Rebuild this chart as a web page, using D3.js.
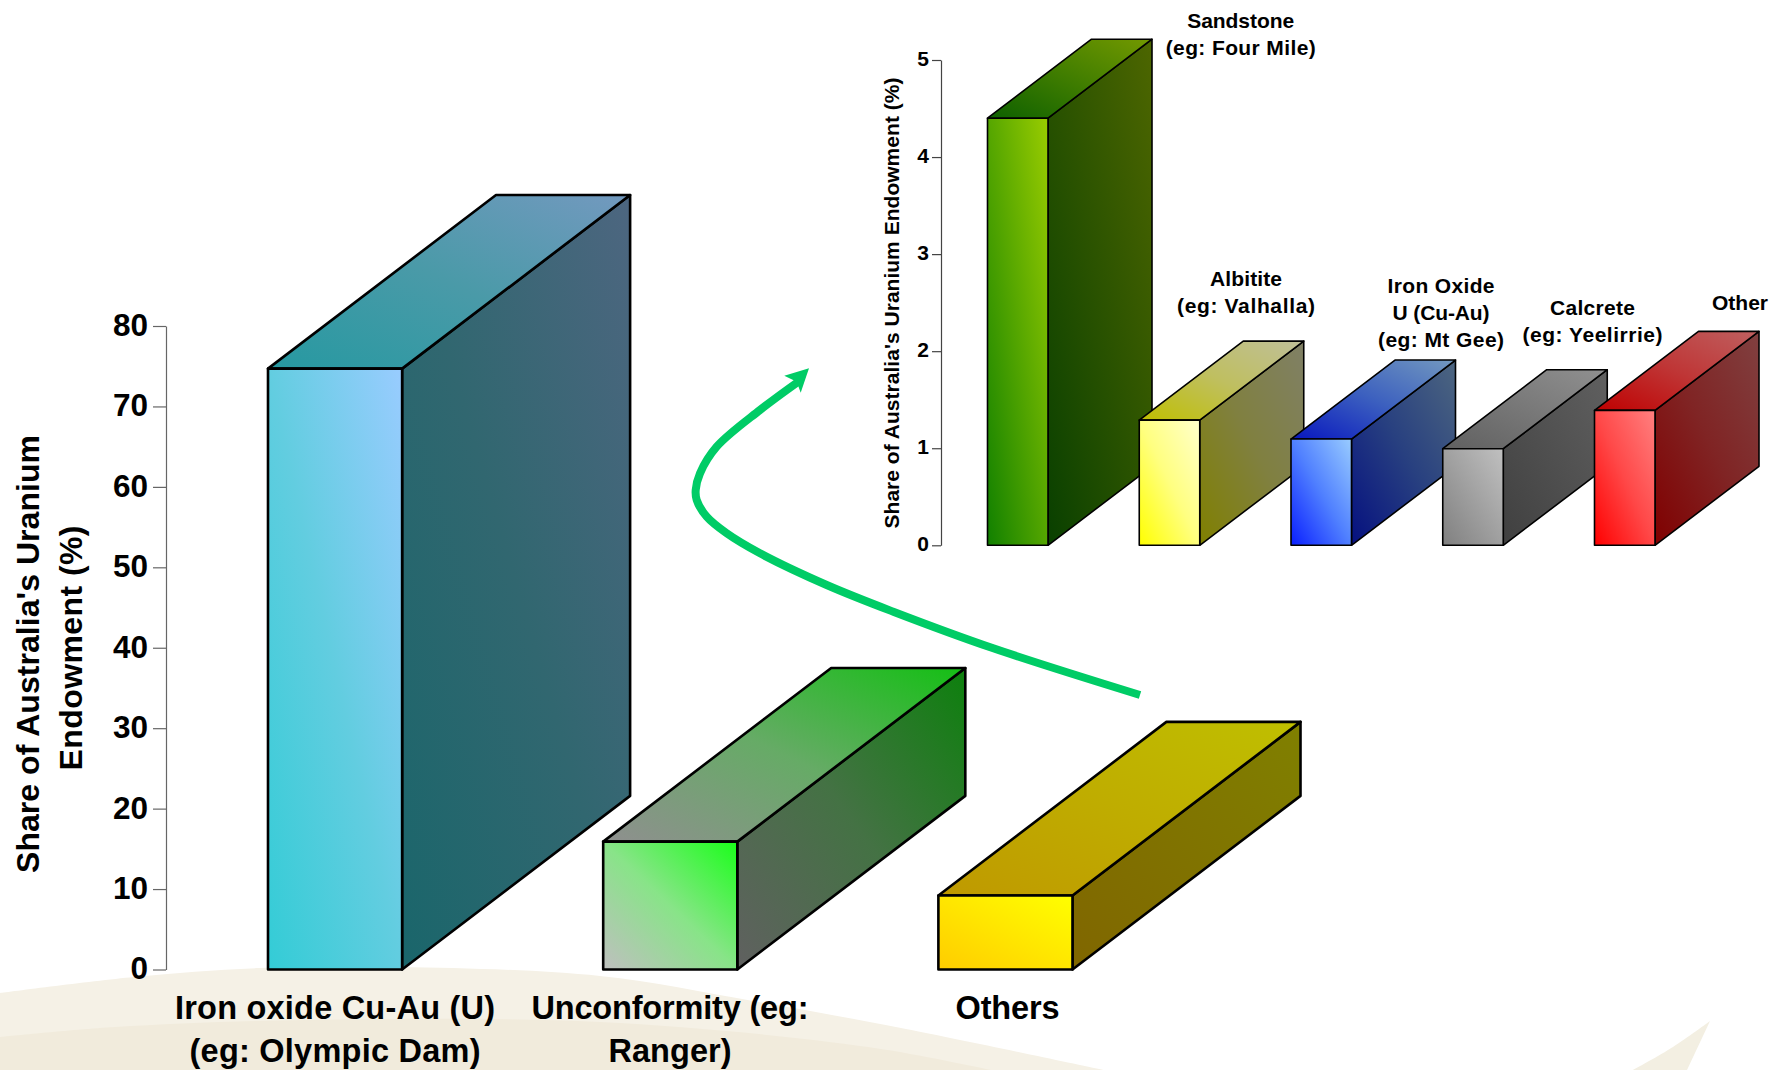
<!DOCTYPE html>
<html><head><meta charset="utf-8">
<script src="https://d3js.org/d3.v7.min.js"></script>
<style>html,body{margin:0;padding:0;background:#fff}svg{display:block}text{font-family:"Liberation Sans",Arial,sans-serif;font-weight:bold;fill:#000}</style>
</head><body><svg id="c" width="1771" height="1070"></svg>
<script>
// ---- data ----
const mainCategories = ["Iron oxide Cu-Au (U)", "Unconformity", "Others"];
const mainValues = [74.7, 15.9, 9.2];
const mainTicks = [0, 10, 20, 30, 40, 50, 60, 70, 80];
const mainLabels = [["Iron oxide Cu-Au (U)", "(eg: Olympic Dam)"], ["Unconformity (eg:", "Ranger)"], ["Others"]];
const mainLowColors = ["#33ccd6", "#bfbfbf", "#ffcc00"];
const mainMidColors = ["#62cde0", "#88e488", "#ffe600"];
const mainHighColors = ["#99ccff", "#1aff1a", "#ffff00"];
const mainTitle = ["Share of Australia's Uranium", "Endowment (%)"];

const insetCategories = ["Sandstone", "Albitite", "Iron Oxide U", "Calcrete", "Other"];
const insetValues = [4.40, 1.29, 1.095, 0.995, 1.39];
const insetTicks = [0, 1, 2, 3, 4, 5];
const insetLabels = [["Sandstone", "(eg: Four Mile)"], ["Albitite", "(eg: Valhalla)"], ["Iron Oxide", "U (Cu-Au)", "(eg: Mt Gee)"], ["Calcrete", "(eg: Yeelirrie)"], ["Other"]];
const insetLowColors = ["#118000", "#ffff00", "#0a1fff", "#808080", "#ff0000"];
const insetMidColors = ["#55a600", "#ffff80", "#5080ff", "#a0a0a0", "#ff4848"];
const insetHighColors = ["#99cc00", "#ffffcc", "#99ccff", "#c0c0c0", "#ff8080"];
const insetTitle = "Share of Australia's Uranium Endowment (%)";

// ---- layout ----
const svg = d3.select("#c");
const defs = svg.append("defs");
const curve = d3.line().curve(d3.curveCatmullRom.alpha(0.5));

// background swooshes
const bgOuter = [[0,993],[134,977],[260,968],[400,967],[600,976],[753,1001],[906,1029],[1113,1072]];
const bgInner = [[0,1037],[115,1027],[306,1020],[600,1022],[868,1047],[1000,1072]];
const bgTip = [[1633,1070],[1673,1047],[1710,1021]];
const area = pts => curve(pts) + "L" + pts[pts.length-1][0] + ",1070L" + pts[0][0] + ",1070Z";
svg.append("path").attr("d", area(bgOuter)).attr("fill", "#f5f1e6");
svg.append("path").attr("d", area(bgInner)).attr("fill", "#f1ebdc");
svg.append("path").attr("d", curve(bgTip) + "L1687,1070Z").attr("fill", "#f3efe2");

let gid = 0;
function grad(lo, mid, hi, k) {
  const id = "g" + (gid++);
  const shade = c => { const r = d3.rgb(c); return d3.rgb(r.r*k, r.g*k, r.b*k).formatHex(); };
  const g = defs.append("linearGradient").attr("id", id)
    .attr("x1", 0).attr("y1", 1).attr("x2", 1).attr("y2", 0);
  g.append("stop").attr("offset", 0).attr("stop-color", shade(lo));
  g.append("stop").attr("offset", 0.5).attr("stop-color", shade(mid));
  g.append("stop").attr("offset", 1).attr("stop-color", shade(hi));
  return "url(#" + id + ")";
}

function drawChart(o) {
  const y = d3.scaleLinear().domain(o.domain).range(o.yRange);
  const x = d3.scaleBand().domain(o.cats).range(o.xRange)
    .paddingInner(o.padInner).paddingOuter(0);
  const axis = d3.axisLeft(y).tickValues(o.ticks).tickFormat(d3.format("d")).tickSize(o.tickLen).tickSizeOuter(0).tickPadding(o.tickPad);
  const ga = svg.append("g").attr("transform", "translate(" + o.axisX + ",0)").call(axis);
  ga.attr("font-family", null).attr("font-size", null);
  ga.selectAll("path,line").attr("stroke", o.axisColor).attr("stroke-width", o.axisW);
  ga.selectAll("text").style("font-size", o.tickFont + "px").attr("dy", o.tickDy);

  const gb = svg.append("g").attr("stroke", "#000").attr("stroke-width", o.barStroke).attr("stroke-linejoin", "round");
  o.cats.forEach((c, i) => {
    const x0 = x(c), x1 = x0 + x.bandwidth(), yt = y(o.values[i]), yb = y(0);
    const d = o.depth;
    const poly = p => "M" + p.map(q => q.join(",")).join("L") + "Z";
    gb.append("path").attr("d", poly([[x1,yb],[x1+d[0],yb+d[1]],[x1+d[0],yt+d[1]],[x1,yt]]))
      .attr("fill", grad(o.lo[i], o.mid[i], o.hi[i], 0.5));
    gb.append("path").attr("d", poly([[x0,yt],[x1,yt],[x1+d[0],yt+d[1]],[x0+d[0],yt+d[1]]]))
      .attr("fill", grad(o.lo[i], o.mid[i], o.hi[i], 0.75));
    gb.append("rect").attr("x", x0).attr("y", yt).attr("width", x.bandwidth()).attr("height", yb - yt)
      .attr("fill", grad(o.lo[i], o.mid[i], o.hi[i], 1));
  });
  return {x, y};
}

drawChart({cats: mainCategories, values: mainValues, ticks: mainTicks, domain: [0, 80],
  yRange: [969.5, 326], xRange: [268, 1072.5], padInner: 1 - 134/334.9, axisX: 166, tickLen: 13, tickPad: 5, tickDy: "0.3em",
  tickFont: 31.5, axisColor: "#666", axisW: 1.2, barStroke: 2.6, depth: [228, -173.6], lo: mainLowColors, mid: mainMidColors, hi: mainHighColors});
drawChart({cats: insetCategories, values: insetValues, ticks: insetTicks, domain: [0, 5],
  yRange: [545.3, 60], xRange: [987.5, 1655], padInner: 1 - 60.5/151.75, axisX: 941, tickLen: 9, tickPad: 3, tickDy: "0.26em",
  tickFont: 21, axisColor: "#444", axisW: 1.2, barStroke: 1.6, depth: [104, -79], lo: insetLowColors, mid: insetMidColors, hi: insetHighColors});

function lines(arr, widths, cx, firstY, gap, size) {
  arr.forEach((t, i) => svg.append("text").attr("x", cx).attr("y", firstY + i*gap)
    .attr("text-anchor", "middle").attr("dominant-baseline", "central").style("font-size", size + "px")
    .attr("textLength", widths[i]).attr("lengthAdjust", "spacing").text(t));
}
const mainLabelX = [335, 670, 1007.5];
const mainLabelW = [[320, 291], [277, 123], [104]];
mainLabels.forEach((l, i) => lines(l, mainLabelW[i], mainLabelX[i], 1008, 43, 32.5));
const insetLabelPos = [[1240.7,20],[1246,278],[1441,285],[1592.5,307],[1740,302]];
const insetLabelW = [[107, 150], [72, 138], [107, 97, 126], [85, 140], [56]];
insetLabels.forEach((l, i) => lines(l, insetLabelW[i], insetLabelPos[i][0], insetLabelPos[i][1], 27.2, 21));

function vtitle(t, x, y, size, w) {
  svg.append("text").attr("transform", "translate(" + x + "," + y + ") rotate(-90)")
    .attr("text-anchor", "middle").attr("dominant-baseline", "central").style("font-size", size + "px")
    .attr("textLength", w).attr("lengthAdjust", "spacing").text(t);
}
vtitle(mainTitle[0], 28, 654, 32, 438);
vtitle(mainTitle[1], 71, 648, 32, 245);
vtitle(insetTitle, 891, 303, 21, 451);

// arrow annotation
const arrowPts = [[1140,695],[993.3,648.3],[893.3,611.7],[826.7,585],[760,553.3],[726.7,533.3],[706.7,516.7],[696.7,500],[695.7,490],[700,473.3],[716.7,446.7],[760,410],[798.3,381.7]];
svg.append("path").attr("d", curve(arrowPts)).attr("fill", "none").attr("stroke", "#00cc66").attr("stroke-width", 8);
svg.append("path").attr("d", "M809,368.3L784.3,375.7L796.7,381.7L800.7,392.7Z").attr("fill", "#00cc66");
</script></body></html>
